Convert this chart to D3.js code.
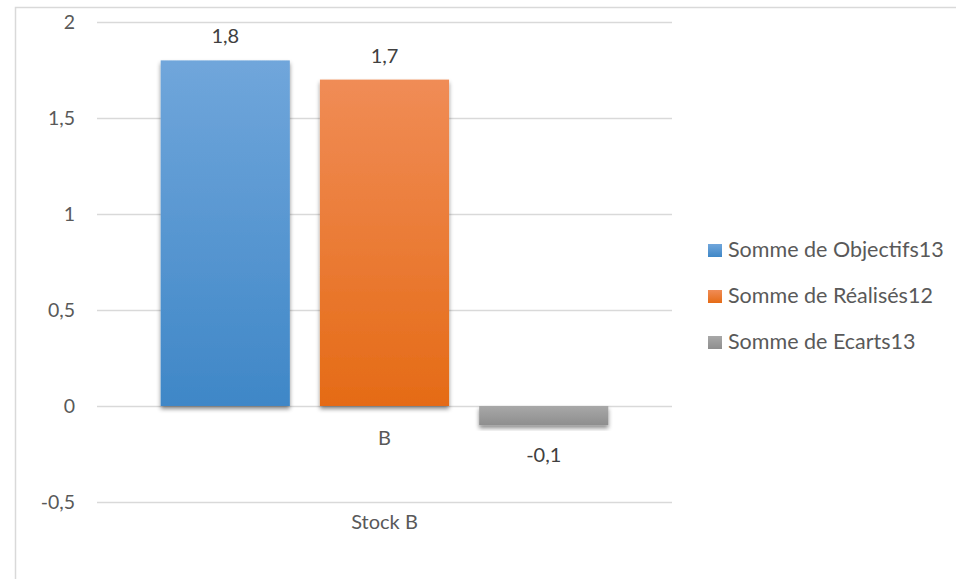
<!DOCTYPE html>
<html>
<head><meta charset="utf-8"></head>
<body style="margin:0;background:#fff">
<svg width="956" height="579"></svg>
<script src="https://d3js.org/d3.v7.min.js"></script>
<script>

var categories = ["B"];
var outerLabel = "Stock B";
var series = ["Somme de Objectifs13", "Somme de Réalisés12", "Somme de Ecarts13"];
var values = [1.8, 1.7, -0.1];
var labels = ["1,8", "1,7", "-0,1"];
var yTicks = [-0.5, 0, 0.5, 1, 1.5, 2];
var colors = [["#70a6db", "#3f87c7"], ["#f08c56", "#e56b16"], ["#a8a8a8", "#8e8e8e"]];

var svg = d3.select("svg"),
    font = "Lato, 'Open Sans', sans-serif",
    left = 97, right = 672;

var defs = svg.append("defs");
colors.forEach(function(c, i) {
  var lg = defs.append("linearGradient").attr("id", "g" + i)
      .attr("x1", 0).attr("y1", 0).attr("x2", 0).attr("y2", 1);
  lg.append("stop").attr("offset", "0%").attr("stop-color", c[0]);
  lg.append("stop").attr("offset", "100%").attr("stop-color", c[1]);
});
defs.append("filter").attr("id", "shadow")
    .attr("x", "-10%").attr("y", "-10%").attr("width", "120%").attr("height", "140%")
  .append("feDropShadow")
    .attr("dx", 0).attr("dy", 3).attr("stdDeviation", 2)
    .attr("flood-color", "#000").attr("flood-opacity", 0.45);

// chart frame
svg.append("rect")
    .attr("x", 15.5).attr("y", 7.5).attr("width", 960).attr("height", 600)
    .attr("fill", "none").attr("stroke", "#d9d9d9").attr("stroke-width", 1.5);

var y = d3.scaleLinear().domain([-0.5, 2]).range([502, 22]);
var x0 = d3.scaleBand().domain(categories).range([left, right]);
var x1 = d3.scaleBand().domain(series).range([0, x0.bandwidth()])
    .paddingInner(0.189).paddingOuter(0.40);

// grid
svg.append("g").selectAll("line").data(yTicks).enter().append("line")
    .attr("x1", left).attr("x2", right)
    .attr("y1", function(d) { return y(d) + 0.5; })
    .attr("y2", function(d) { return y(d) + 0.5; })
    .attr("stroke", "#d9d9d9").attr("stroke-width", 1.3);

svg.append("g").selectAll("text").data(yTicks).enter().append("text")
    .attr("x", 75).attr("y", function(d) { return y(d); })
    .attr("dy", "0.36em")
    .attr("text-anchor", "end")
    .attr("font-family", font).attr("font-size", 19.5).attr("fill", "#595959")
    .text(function(d) { return String(d).replace(".", ","); });

// bars
var g = svg.append("g").attr("transform", "translate(" + x0("B") + ",0)");
g.selectAll("rect").data(values).enter().append("rect")
    .attr("x", function(d, i) { return x1(series[i]); })
    .attr("y", function(d) { return y(Math.max(0, d)); })
    .attr("width", x1.bandwidth())
    .attr("height", function(d) { return Math.abs(y(d) - y(0)); })
    .attr("fill", function(d, i) { return "url(#g" + i + ")"; })
    .attr("filter", "url(#shadow)");

g.selectAll(".lbl").data(values).enter().append("text")
    .attr("class", "lbl")
    .attr("x", function(d, i) { return x1(series[i]) + x1.bandwidth() / 2; })
    .attr("y", function(d) { return d >= 0 ? y(d) - 17 : y(d) + 37; })
    .attr("text-anchor", "middle")
    .attr("font-family", font).attr("font-size", 20).attr("fill", "#404040")
    .text(function(d, i) { return labels[i]; });

// category labels
svg.append("text")
    .attr("x", x0("B") + x0.bandwidth() / 2).attr("y", y(0) + 39)
    .attr("text-anchor", "middle")
    .attr("font-family", font).attr("font-size", 20).attr("fill", "#595959")
    .text(categories[0]);
svg.append("text")
    .attr("x", x0("B") + x0.bandwidth() / 2).attr("y", y(-0.5) + 27)
    .attr("text-anchor", "middle")
    .attr("font-family", font).attr("font-size", 20).attr("fill", "#595959")
    .text(outerLabel);

// legend
var leg = svg.append("g").selectAll("g").data(series).enter().append("g")
    .attr("transform", function(d, i) { return "translate(708," + (257 + i * 46) + ")"; });
leg.append("rect")
    .attr("x", 0).attr("y", -13).attr("width", 14).attr("height", 13)
    .attr("fill", function(d, i) { return "url(#g" + i + ")"; });
leg.append("text")
    .attr("x", 20).attr("y", 0)
    .attr("font-family", font).attr("font-size", 21.5).attr("fill", "#595959")
    .text(function(d) { return d; });

</script>
</body>
</html>
